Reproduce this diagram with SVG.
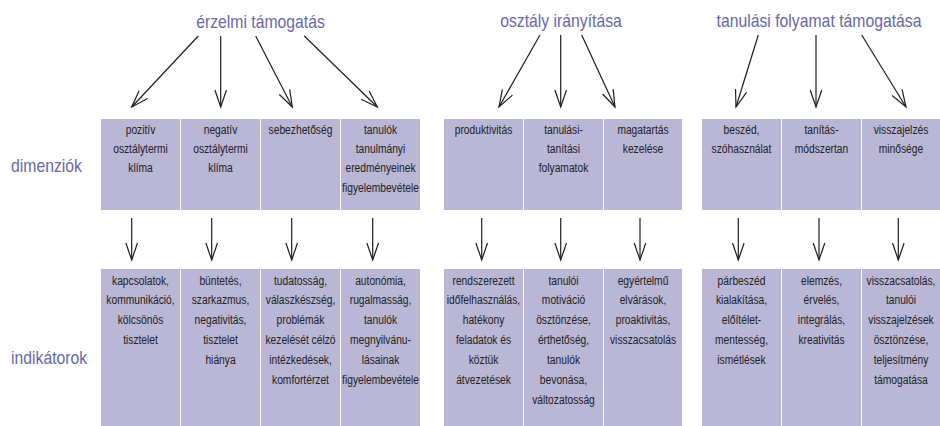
<svg xmlns="http://www.w3.org/2000/svg" width="940" height="426" viewBox="0 0 940 426">
<defs>
<marker id="v" markerUnits="userSpaceOnUse" markerWidth="40" markerHeight="40" refX="0" refY="0" orient="auto" viewBox="-20 -20 40 40" overflow="visible">
<path d="M-17,-5.8 L0,0 L-17,5.8" fill="none" stroke="#1e1e1e" stroke-width="1.2"/>
</marker>
<style>
.h{font-family:"Liberation Sans",Arial,sans-serif;font-size:19px;fill:#6a68a8;}
.t{font-family:"Liberation Sans",Arial,sans-serif;font-size:13.5px;fill:#222222;text-anchor:middle;}
.b{fill:#b9b6d6;}
.a{stroke:#1e1e1e;stroke-width:1.2;fill:none;marker-end:url(#v);}
</style>
</defs>
<rect width="940" height="426" fill="#ffffff"/>

<g id="headings">
<text class="h" text-anchor="middle" transform="translate(260.5,28) scale(0.83,1)">érzelmi támogatás</text>
<text class="h" text-anchor="middle" transform="translate(561,27) scale(0.83,1)">osztály irányítása</text>
<text class="h" text-anchor="middle" transform="translate(819,27) scale(0.83,1)">tanulási folyamat támogatása</text>
</g>
<g id="side-labels">
<text class="h" transform="translate(11,172) scale(0.83,1)">dimenziók</text>
<text class="h" transform="translate(11,364) scale(0.83,1)">indikátorok</text>
</g>

<g id="d1"><rect class="b" x="101" y="119" width="79" height="91"/><text class="t" transform="translate(140.5,133.5) scale(0.76,1)"><tspan x="0">pozitív</tspan><tspan x="0" dy="19.5">osztálytermi</tspan><tspan x="0" dy="19.5">klíma</tspan></text></g>
<g id="d2"><rect class="b" x="181" y="119" width="79" height="91"/><text class="t" transform="translate(220.5,133.5) scale(0.76,1)"><tspan x="0">negatív</tspan><tspan x="0" dy="19.5">osztálytermi</tspan><tspan x="0" dy="19.5">klíma</tspan></text></g>
<g id="d3"><rect class="b" x="261" y="119" width="79" height="91"/><text class="t" transform="translate(300.5,133.5) scale(0.76,1)"><tspan x="0">sebezhetőség</tspan></text></g>
<g id="d4"><rect class="b" x="341" y="119" width="79" height="91"/><text class="t" transform="translate(380.5,133.5) scale(0.76,1)"><tspan x="0">tanulók</tspan><tspan x="0" dy="19.5">tanulmányi</tspan><tspan x="0" dy="19.5">eredményeinek</tspan><tspan x="0" dy="19.5">figyelembevétele</tspan></text></g>
<g id="d5"><rect class="b" x="444" y="119" width="79" height="91"/><text class="t" transform="translate(483.5,133.5) scale(0.76,1)"><tspan x="0">produktivitás</tspan></text></g>
<g id="d6"><rect class="b" x="524" y="119" width="79" height="91"/><text class="t" transform="translate(563.5,133.5) scale(0.76,1)"><tspan x="0">tanulási-</tspan><tspan x="0" dy="19.5">tanítási</tspan><tspan x="0" dy="19.5">folyamatok</tspan></text></g>
<g id="d7"><rect class="b" x="604" y="119" width="78" height="91"/><text class="t" transform="translate(643,133.5) scale(0.76,1)"><tspan x="0">magatartás</tspan><tspan x="0" dy="19.5">kezelése</tspan></text></g>
<g id="d8"><rect class="b" x="702" y="119" width="79" height="91"/><text class="t" transform="translate(741.5,133.5) scale(0.76,1)"><tspan x="0">beszéd,</tspan><tspan x="0" dy="19.5">szóhasználat</tspan></text></g>
<g id="d9"><rect class="b" x="782" y="119" width="79" height="91"/><text class="t" transform="translate(821.5,133.5) scale(0.76,1)"><tspan x="0">tanítás-</tspan><tspan x="0" dy="19.5">módszertan</tspan></text></g>
<g id="d10"><rect class="b" x="862" y="119" width="78" height="91"/><text class="t" transform="translate(901,133.5) scale(0.76,1)"><tspan x="0">visszajelzés</tspan><tspan x="0" dy="19.5">minősége</tspan></text></g>

<g id="i1"><rect class="b" x="101" y="269" width="79" height="157"/><text class="t" transform="translate(140.5,284.5) scale(0.76,1)"><tspan x="0">kapcsolatok,</tspan><tspan x="0" dy="20">kommunikáció,</tspan><tspan x="0" dy="20">kölcsönös</tspan><tspan x="0" dy="20">tisztelet</tspan></text></g>
<g id="i2"><rect class="b" x="181" y="269" width="79" height="157"/><text class="t" transform="translate(220.5,284.5) scale(0.76,1)"><tspan x="0">büntetés,</tspan><tspan x="0" dy="20">szarkazmus,</tspan><tspan x="0" dy="20">negativitás,</tspan><tspan x="0" dy="20">tisztelet</tspan><tspan x="0" dy="20">hiánya</tspan></text></g>
<g id="i3"><rect class="b" x="261" y="269" width="79" height="157"/><text class="t" transform="translate(300.5,284.5) scale(0.76,1)"><tspan x="0">tudatosság,</tspan><tspan x="0" dy="20">válaszkészség,</tspan><tspan x="0" dy="20">problémák</tspan><tspan x="0" dy="20">kezelését célzó</tspan><tspan x="0" dy="20">intézkedések,</tspan><tspan x="0" dy="20">komfortérzet</tspan></text></g>
<g id="i4"><rect class="b" x="341" y="269" width="79" height="157"/><text class="t" transform="translate(380.5,284.5) scale(0.76,1)"><tspan x="0">autonómia,</tspan><tspan x="0" dy="20">rugalmasság,</tspan><tspan x="0" dy="20">tanulók</tspan><tspan x="0" dy="20">megnyilvánu-</tspan><tspan x="0" dy="20">lásainak</tspan><tspan x="0" dy="20">figyelembevétele</tspan></text></g>
<g id="i5"><rect class="b" x="444" y="269" width="79" height="157"/><text class="t" transform="translate(483.5,284.5) scale(0.76,1)"><tspan x="0">rendszerezett</tspan><tspan x="0" dy="20">időfelhasználás,</tspan><tspan x="0" dy="20">hatékony</tspan><tspan x="0" dy="20">feladatok és</tspan><tspan x="0" dy="20">köztük</tspan><tspan x="0" dy="20">átvezetések</tspan></text></g>
<g id="i6"><rect class="b" x="524" y="269" width="79" height="157"/><text class="t" transform="translate(563.5,284.5) scale(0.76,1)"><tspan x="0">tanulói</tspan><tspan x="0" dy="20">motiváció</tspan><tspan x="0" dy="20">ösztönzése,</tspan><tspan x="0" dy="20">érthetőség,</tspan><tspan x="0" dy="20">tanulók</tspan><tspan x="0" dy="20">bevonása,</tspan><tspan x="0" dy="20">változatosság</tspan></text></g>
<g id="i7"><rect class="b" x="604" y="269" width="78" height="157"/><text class="t" transform="translate(643,284.5) scale(0.76,1)"><tspan x="0">egyértelmű</tspan><tspan x="0" dy="20">elvárások,</tspan><tspan x="0" dy="20">proaktivitás,</tspan><tspan x="0" dy="20">visszacsatolás</tspan></text></g>
<g id="i8"><rect class="b" x="702" y="269" width="79" height="157"/><text class="t" transform="translate(741.5,284.5) scale(0.76,1)"><tspan x="0">párbeszéd</tspan><tspan x="0" dy="20">kialakítása,</tspan><tspan x="0" dy="20">előítélet-</tspan><tspan x="0" dy="20">mentesség,</tspan><tspan x="0" dy="20">ismétlések</tspan></text></g>
<g id="i9"><rect class="b" x="782" y="269" width="79" height="157"/><text class="t" transform="translate(821.5,284.5) scale(0.76,1)"><tspan x="0">elemzés,</tspan><tspan x="0" dy="20">érvelés,</tspan><tspan x="0" dy="20">integrálás,</tspan><tspan x="0" dy="20">kreativitás</tspan></text></g>
<g id="i10"><rect class="b" x="862" y="269" width="78" height="157"/><text class="t" transform="translate(901,284.5) scale(0.76,1)"><tspan x="0">visszacsatolás,</tspan><tspan x="0" dy="20">tanulói</tspan><tspan x="0" dy="20">visszajelzések</tspan><tspan x="0" dy="20">ösztönzése,</tspan><tspan x="0" dy="20">teljesítmény</tspan><tspan x="0" dy="20">támogatása</tspan></text></g>

<g id="connectors">
<line class="a" x1="198.3" y1="36" x2="131.7" y2="107"/>
<line class="a" x1="220.7" y1="36" x2="220.7" y2="107"/>
<line class="a" x1="255.7" y1="36" x2="292.3" y2="107"/>
<line class="a" x1="304.3" y1="36" x2="377.3" y2="107"/>
<line class="a" x1="540" y1="35" x2="499" y2="107"/>
<line class="a" x1="560.7" y1="35" x2="560.7" y2="107"/>
<line class="a" x1="581.7" y1="35" x2="615" y2="107"/>
<line class="a" x1="758.3" y1="35" x2="736" y2="107"/>
<line class="a" x1="816" y1="35" x2="816" y2="107"/>
<line class="a" x1="861.7" y1="35" x2="906" y2="107"/>
<line class="a" x1="131.7" y1="218" x2="131.7" y2="260"/>
<line class="a" x1="211.7" y1="218" x2="211.7" y2="260"/>
<line class="a" x1="291.7" y1="218" x2="291.7" y2="260"/>
<line class="a" x1="372.7" y1="218" x2="372.7" y2="260"/>
<line class="a" x1="481.7" y1="218" x2="481.7" y2="260"/>
<line class="a" x1="560.7" y1="218" x2="560.7" y2="260"/>
<line class="a" x1="640" y1="218" x2="640" y2="260"/>
<line class="a" x1="738.3" y1="218" x2="738.3" y2="260"/>
<line class="a" x1="819" y1="218" x2="819" y2="260"/>
<line class="a" x1="898.3" y1="218" x2="898.3" y2="260"/>
</g>
</svg>
